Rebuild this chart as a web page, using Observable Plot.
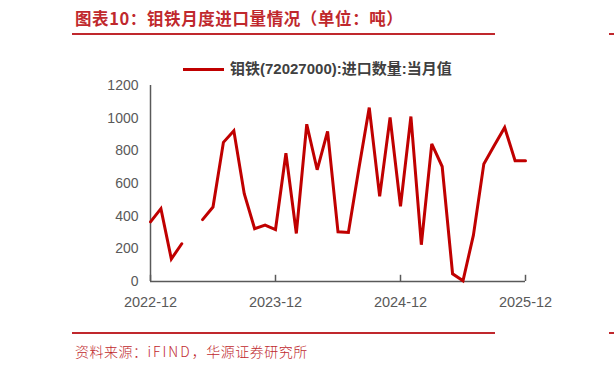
<!DOCTYPE html>
<html>
<head>
<meta charset="utf-8">
<script src="https://cdn.jsdelivr.net/npm/d3@7"></script>
<script src="https://cdn.jsdelivr.net/npm/@observablehq/plot@0.6"></script>
<style>
  html, body { margin: 0; padding: 0; background: #fff; }
  #wrap { position: relative; width: 614px; height: 371px; overflow: hidden; font-family: "Liberation Sans", Arial, sans-serif; }
  .title { position: absolute; left: 75px; top: 7px; font-family: "Noto Sans CJK SC", sans-serif; font-weight: bold; font-size: 16.5px; color: #c0282d; white-space: nowrap; letter-spacing: 0.6px; line-height: 22px; }
  .rule { position: absolute; height: 2px; background: #c0282d; }
  .src { position: absolute; left: 75px; top: 341px; font-family: "Noto Sans CJK SC", sans-serif; font-size: 14px; color: #c0282d; white-space: nowrap; line-height: 20px; font-weight: 300; letter-spacing: 0.5px; }
  .src .en { letter-spacing: 2px; }
  .legend { position: absolute; left: 183px; top: 59px; display: flex; align-items: center; white-space: nowrap; }
  .legend .sw { width: 41px; height: 3px; background: #c00000; margin-right: 6px; }
  .legend .lt { font-family: "Liberation Sans", "Noto Sans CJK SC", sans-serif; font-weight: bold; font-size: 15px; color: #404040; line-height: 20px; }
  svg.plot { position: absolute; left: 0; top: 0; }
</style>
</head>
<body>
<div id="wrap">
  <div class="title">图表10：钼铁月度进口量情况（单位：吨）</div>
  <div class="rule" style="left:72px; top:33px; width:423px;"></div>
  <div class="rule" style="left:609px; top:33px; width:10px;"></div>
  <div class="legend"><div class="sw"></div><div class="lt">钼铁(72027000):进口数量:当月值</div></div>
  <div class="rule" style="left:72px; top:332px; width:423px;"></div>
  <div class="rule" style="left:609px; top:332px; width:10px;"></div>
  <div class="src">资料来源：<span class="en">iFIND</span>，华源证券研究所</div>
  <div id="chart"></div>
</div>
<script>
const months = [
  "2022-12","2023-01","2023-02","2023-03","2023-04","2023-05","2023-06","2023-07","2023-08","2023-09","2023-10","2023-11",
  "2023-12","2024-01","2024-02","2024-03","2024-04","2024-05","2024-06","2024-07","2024-08","2024-09","2024-10","2024-11",
  "2024-12","2025-01","2025-02","2025-03","2025-04","2025-05","2025-06","2025-07","2025-08","2025-09","2025-10","2025-11",
  "2025-12"
];
const values = [
  365, 446, 138, 231, null, 379, 456, 852, 923, 538, 323, 345,
  318, 785, 294, 963, 684, 919, 304, 300, 690, 1065, 521, 1004,
  460, 1010, 225, 842, 704, 47, 4, 284, 720, 832, 943, 740,
  740
];
const xTickLabels = ["2022-12", "2023-12", "2024-12", "2025-12"];
const yTicks = [0, 200, 400, 600, 800, 1000, 1200];

const data = months.map((m, i) => ({i, month: m, value: values[i]}));
const xTickIdx = xTickLabels.map(l => months.indexOf(l));

const chart = Plot.plot({
  width: 614,
  height: 371,
  marginLeft: 150,
  marginRight: 89,
  marginTop: 85,
  marginBottom: 90,
  style: {background: "transparent", fontFamily: "'Liberation Sans', Arial, sans-serif"},
  x: {type: "linear", domain: [0, months.length - 1]},
  y: {domain: [0, 1200]},
  marks: [
    Plot.axisY({ticks: yTicks, tickSize: 0, tickPadding: 12, fontSize: 14, color: "#595959", label: null, tickFormat: d => String(d)}),
    Plot.axisX({ticks: xTickIdx, tickSize: 0, tickPadding: 15, fontSize: 14.5, color: "#595959", label: null, tickFormat: i => months[i]}),
    Plot.ruleX(xTickIdx, {x: d => d, y1: 0, y2: 38, stroke: "#595959", strokeWidth: 1.5}),
    Plot.ruleY([0], {stroke: "#595959", strokeWidth: 1.5}),
    Plot.ruleX([0], {y1: 0, y2: 1200, stroke: "#595959", strokeWidth: 1.5}),
    Plot.line(data, {x: "i", y: "value", stroke: "#c00000", strokeWidth: 3, strokeLinejoin: "miter", strokeMiterlimit: 3})
  ]
});
chart.classList.add("plot");
document.getElementById("chart").appendChild(chart);
</script>
</body>
</html>
